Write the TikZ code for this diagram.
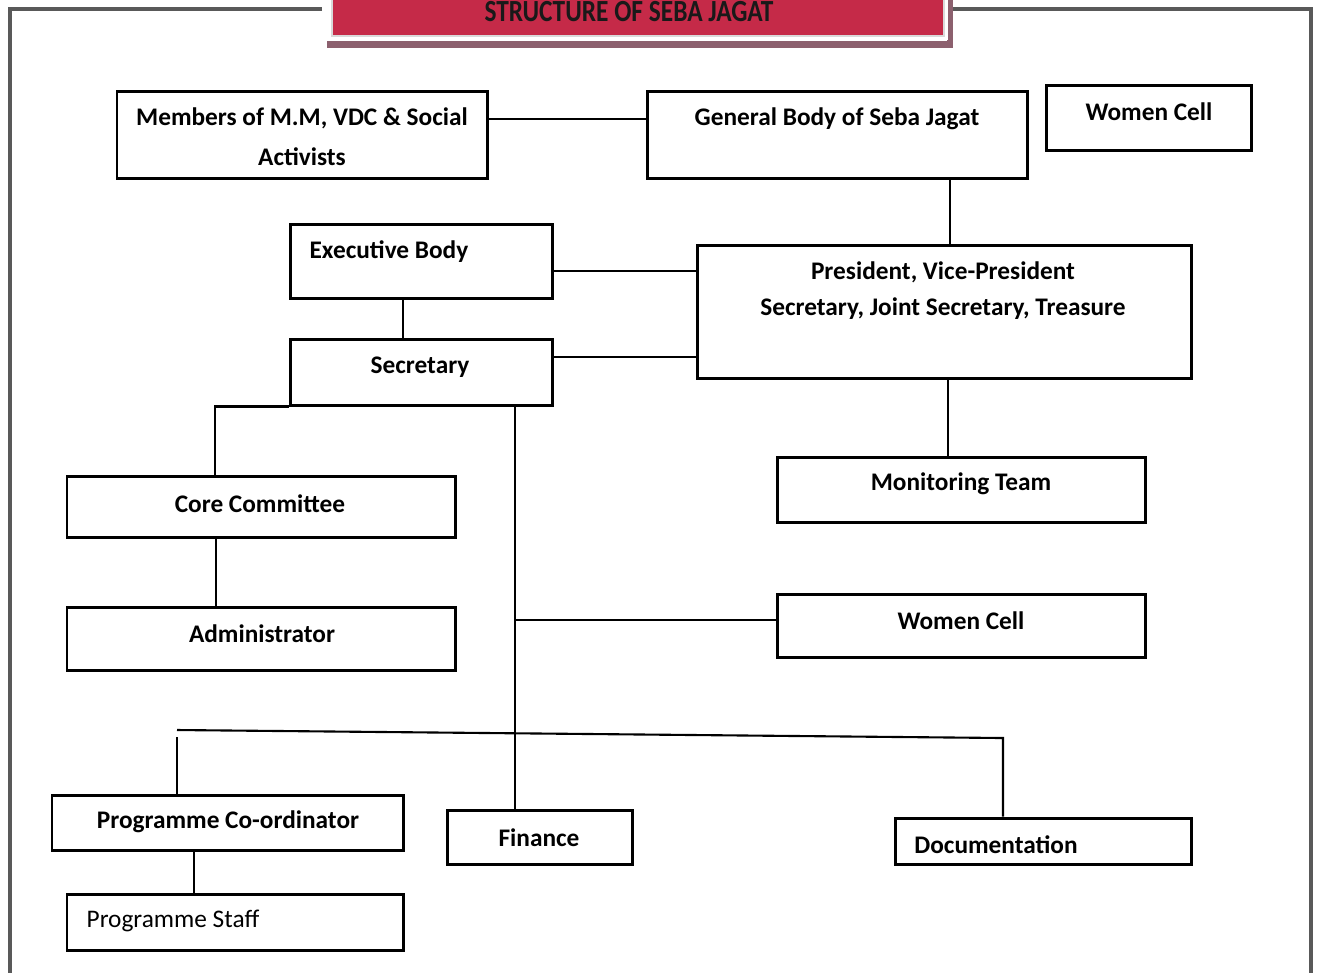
\documentclass[tikz,border=0pt]{standalone}
\usepackage{fontspec}
\setmainfont{Carlito}
\usepackage{xcolor}
\usetikzlibrary{fit,patterns}
\definecolor{bannerred}{RGB}{197,42,72}
\definecolor{shadowcol}{RGB}{140,96,110}
\tikzset{
	orgbox/.style={draw,line width=0.85pt,inner sep=0pt},
	orgtext/.style={font=\fontsize{7.2}{8}\selectfont\bfseries,inner sep=0pt,align=center},
	link/.style={line width=0.6pt},
	frameline/.style={draw=black!65,line width=1pt}
}
\begin{document}
\begin{tikzpicture}[x=0.01cm,y=-0.01cm]
			\useasboundingbox (0,0) rectangle (1319,972);
			\begin{scope}
			\clip (0,0) rectangle (1319,972);
			\draw[frameline] (322,9) -- (10,9) -- (10,980);
			\draw[frameline] (952,9) -- (1311,9) -- (1311,980);
			\fill[shadowcol] (327,41) rectangle (953,48);
			\fill[shadowcol] (947,-10) rectangle (953,48);
			\fill[white] (328,-10) rectangle (948,40);
			\node[fill=bannerred,draw=black!15,inner sep=0pt,fit={(332,-10)(944,36)}] (banner) {};
			\end{scope}
			\node[font=\fontsize{7.6}{8}\selectfont\bfseries,inner sep=0pt,text=black!90] (title) at (629,12) {\scalebox{0.95}[1.15]{STRUCTURE OF SEBA JAGAT}};
			\node[orgbox,fit={(117,91)(487,178)}] (memb) {};
			\node[orgtext] (memb-t) at (302,137) {Members of M.M, VDC \& Social\\[3.3pt]Activists};
			\node[orgbox,fit={(647,91)(1027,178)}] (gen) {};
			\node[orgtext] (gen-t) at (837,119) {General Body of Seba Jagat};
			\node[orgbox,fit={(1046,85)(1251,150)}] (wtop) {};
			\node[orgtext] (wtop-t) at (1149,112) {Women Cell};
			\node[orgbox,fit={(290,224)(552,298)}] (exec) {};
			\node[orgtext] (exec-t) at (389,252) {Executive Body};
			\node[orgbox,fit={(697,245)(1191,378)}] (pres) {};
			\node[orgtext] (pres-t) at (943,291) {President, Vice-President\\[2.2pt]Secretary, Joint Secretary, Treasure};
			\node[orgbox,fit={(290,339)(552,405)}] (secy) {};
			\node[orgtext] (secy-t) at (420,367) {Secretary};
			\node[orgbox,fit={(67,476)(455,537)}] (core) {};
			\node[orgtext] (core-t) at (260,504) {Core Committee};
			\node[orgbox,fit={(777,457)(1145,522)}] (mon) {};
			\node[orgtext] (mon-t) at (961,484) {Monitoring Team};
			\node[orgbox,fit={(67,607)(455,670)}] (admin) {};
			\node[orgtext] (admin-t) at (262,634) {Administrator};
			\node[orgbox,fit={(777,594)(1145,657)}] (wmid) {};
			\node[orgtext] (wmid-t) at (961,621) {Women Cell};
			\node[orgbox,fit={(52,795)(403,850)}] (pcoord) {};
			\node[orgtext] (pcoord-t) at (228,822) {Programme Co-ordinator};
			\node[orgbox,fit={(447,810)(632,864)}] (fin) {};
			\node[orgtext] (fin-t) at (539,838) {Finance};
			\node[orgbox,fit={(895,818)(1191,864)}] (doc) {};
			\node[orgtext] (doc-t) at (996,845) {Documentation};
			\node[orgbox,fit={(67,894)(403,950)}] (pstaff) {};
			\node[orgtext,font=\fontsize{7.2}{8}\selectfont,anchor=west] (pstaff-t) at (86,921) {Programme Staff};
			\coordinate (split) at (177,730);
			\coordinate (docturn) at (1003,738);
			\coordinate (wjoin) at (515,620);
			\draw[link] (memb.east |- gen-t) -- (gen.west |- gen-t);
			\draw[link] (gen.south -| 950,0) -- (pres.north -| 950,0);
			\draw[link] (exec.east |- 0,271) -- (pres.west |- 0,271);
			\draw[link] (secy.east |- 0,357) -- (pres.west |- 0,357);
			\draw[link] (exec.south -| 403,0) -- (secy.north -| 403,0);
			\draw[link] (pres.south -| 948,0) -- (mon.north -| 948,0);
			\draw[link] (core.north -| 215,0) |- (secy.south west);
			\draw[link] (core.south -| 216,0) -- (admin.north -| 216,0);
			\draw[link] (secy.south -| 515,0) -- (fin.north -| 515,0);
			\draw[link] (wmid.west |- wjoin) -- (wjoin);
			\draw[link] (split) -- (docturn) -- (doc.north -| docturn);
			\draw[link] (split |- 0,737) -- (pcoord.north -| split);
			\draw[link] (pcoord.south -| 194,0) -- (pstaff.north -| 194,0);
		\end{tikzpicture}
\end{document}
